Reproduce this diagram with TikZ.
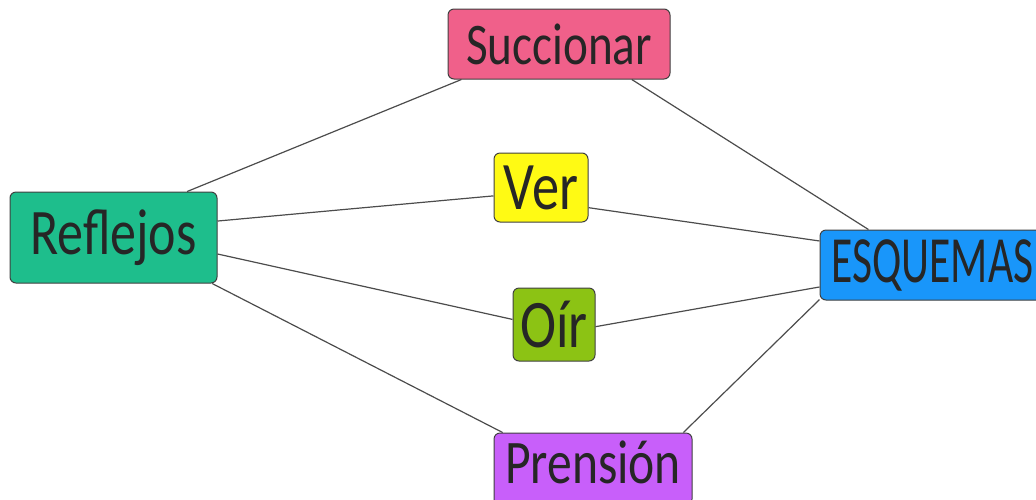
\documentclass[tikz,border=0pt]{standalone}
\usepackage{fontspec}
\newfontfamily\boxfont[FakeStretch=0.8]{Carlito}
\newfontfamily\narrowfont[FakeStretch=0.66]{Carlito}
\definecolor{succcolor}{RGB}{240,96,138}
\definecolor{reflcolor}{RGB}{30,190,140}
\definecolor{vercolor}{RGB}{255,250,20}
\definecolor{esqcolor}{RGB}{25,150,250}
\definecolor{oircolor}{RGB}{140,195,20}
\definecolor{prencolor}{RGB}{200,95,250}
\begin{document}
\begin{tikzpicture}[x=0.5pt,y=-0.5pt]
            \tikzstyle{concept} = [draw=black!75, rounded corners=3pt, line width=0.5pt, inner sep=0pt, text=black!85]
            \tikzstyle{link} = [draw=black!70, line width=0.6pt]
            \clip (0,0) rectangle (1036,499);
            \node[concept, fill=succcolor, minimum width=111pt, minimum height=35pt, font=\boxfont\fontsize{29.5}{30}\selectfont] (succionar) at (559,44) {Succionar};
            \node[concept, fill=reflcolor, minimum width=103.5pt, minimum height=45.5pt, font=\boxfont\fontsize{32.5}{33}\selectfont] (reflejos) at (113.5,237.5) {Reflejos};
            \node[concept, fill=vercolor, minimum width=47pt, minimum height=34.5pt, font=\boxfont\fontsize{34}{34}\selectfont] (ver) at (541,187.5) {Ver};
            \node[concept, fill=esqcolor, minimum width=112.5pt, minimum height=35pt, font=\narrowfont\fontsize{33}{33}\selectfont] (esquemas) at (932.5,265) {ESQUEMAS};
            \node[concept, fill=oircolor, minimum width=41pt, minimum height=36.5pt, font=\boxfont\fontsize{34}{34}\selectfont] (oir) at (554,324.5) {Oír};
            \node[concept, fill=prencolor, minimum width=99pt, minimum height=36pt, text depth=7pt, font=\boxfont\fontsize{31}{31}\selectfont] (prension) at (593,469) {Prensión};
            \draw[link] (reflejos.32.5) -- (succionar.200);
            \draw[link] (succionar.334.4) -- (esquemas.151.5);
            \draw[link] (reflejos.9.6) -- (ver.190.2);
            \draw[link] (ver.-23.6) -- (esquemas.168.4);
            \draw[link] (reflejos.-9.6) -- (oir.173.7);
            \draw[link] (oir.-3.5) -- (esquemas.191.1);
            \draw[link] (reflejos.-25.7) -- (prension.158.9);
            \draw[link] (prension.22) -- (esquemas.197);
\end{tikzpicture}
\end{document}
